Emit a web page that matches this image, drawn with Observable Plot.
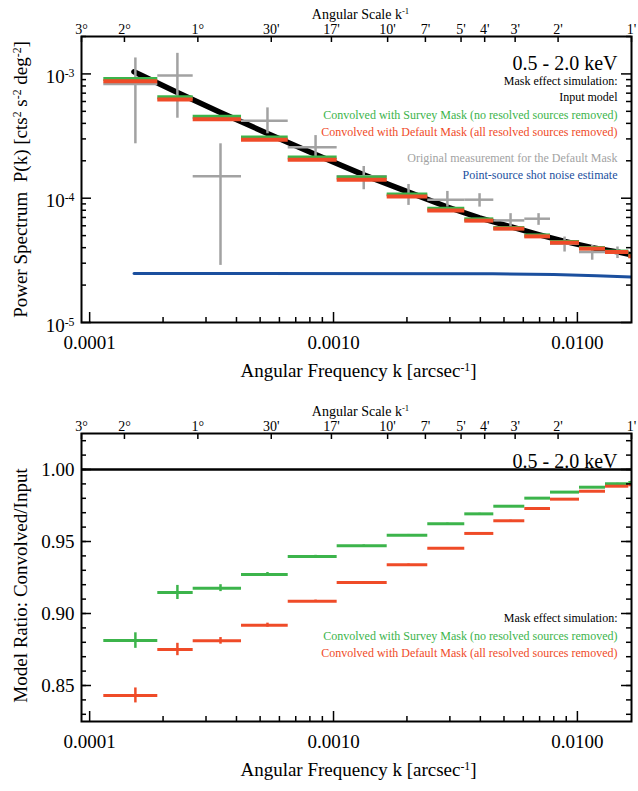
<!DOCTYPE html>
<html><head><meta charset="utf-8">
<script src="https://cdn.jsdelivr.net/npm/d3@7"></script>
<script src="https://cdn.jsdelivr.net/npm/@observablehq/plot@0.6"></script>
<style>body{margin:0;background:#fff}svg{display:block;font-family:"Liberation Serif","Times New Roman",serif !important}svg text{font-family:"Liberation Serif","Times New Roman",serif !important}</style>
</head><body><div id="c"></div>
<script>
// ===== data =====
const binLo = [1.143e-4, 1.903e-4, 2.658e-4, 4.195e-4, 6.52e-4, 1.035e-3, 1.66e-3, 2.435e-3, 3.453e-3, 4.542e-3, 6.086e-3, 7.756e-3, 1.020e-2, 1.304e-2, 1.625e-2];
const binHi = [1.903e-4, 2.658e-4, 4.195e-4, 6.52e-4, 1.035e-3, 1.66e-3, 2.435e-3, 3.453e-3, 4.542e-3, 6.086e-3, 7.756e-3, 1.020e-2, 1.304e-2, 1.625e-2, 2.0e-2];
const kCenter = [1.54e-4, 2.29e-4, 3.44e-4, 5.36e-4, 8.44e-4, 1.33e-3, 2.03e-3, 2.93e-3, 3.97e-3, 5.32e-3, 6.93e-3, 8.86e-3, 1.15e-2, 1.46e-2, 1.8e-2];

// top panel: convolved power spectra
const pSurvey  = [9.12e-4, 6.49e-4, 4.52e-4, 3.08e-4, 2.13e-4, 1.47e-4, 1.073e-4, 8.23e-5, 6.76e-5, 5.75e-5, 5.02e-5, 4.44e-5, 3.97e-5, 3.72e-5, 3.44e-5];
const pDefault = [8.72e-4, 6.22e-4, 4.32e-4, 2.95e-4, 2.04e-4, 1.41e-4, 1.034e-4, 7.98e-5, 6.60e-5, 5.69e-5, 4.93e-5, 4.39e-5, 3.93e-5, 3.69e-5, 3.41e-5];

// original measurement (gray crosses)
const pOrig   = [8.31e-4, 9.69e-4, 1.505e-4, 4.19e-4, 2.57e-4, 1.505e-4, 1.067e-4, 9.73e-5, 9.73e-5, 6.63e-5, 6.84e-5, 4.31e-5, 3.69e-5, 3.69e-5];
const pOrigLo = [2.74e-4, 4.40e-4, 2.88e-5, 3.30e-4, 2.08e-4, 1.17e-4, 8.75e-5, 8.48e-5, 8.48e-5, 5.86e-5, 6.05e-5, 3.69e-5, 3.17e-5, 3.27e-5];
const pOrigHi = [1.344e-3, 1.464e-3, 2.74e-4, 5.33e-4, 3.19e-4, 1.80e-4, 1.29e-4, 1.134e-4, 1.087e-4, 7.51e-5, 7.51e-5, 4.87e-5, 4.18e-5, 4.05e-5];

// input model (black) and shot noise (blue)
const kModel = [1.52e-4, 2.29e-4, 3.44e-4, 5.36e-4, 8.44e-4, 1.33e-3, 2.03e-3, 2.93e-3, 3.97e-3, 5.32e-3, 6.93e-3, 8.86e-3, 1.15e-2, 1.46e-2, 1.667e-2];
const pModel = [1.04e-3, 7.1e-4, 4.9e-4, 3.32e-4, 2.25e-4, 1.54e-4, 1.12e-4, 8.5e-5, 6.95e-5, 5.9e-5, 5.1e-5, 4.5e-5, 4.0e-5, 3.7e-5, 3.5e-5];
const kNoise = [1.52e-4, 4.5e-3, 8e-3, 1.2e-2, 1.667e-2];
const pNoise = [2.475e-5, 2.47e-5, 2.43e-5, 2.38e-5, 2.32e-5];

// bottom panel: model ratios
const ratioSurvey  = [0.8812, 0.9146, 0.9176, 0.9271, 0.9396, 0.947, 0.9544, 0.9623, 0.9692, 0.9745, 0.9801, 0.9843, 0.9877, 0.9901, 0.991];
const ratioDefault = [0.8431, 0.875, 0.881, 0.8919, 0.9085, 0.9215, 0.9338, 0.9453, 0.9556, 0.9644, 0.9729, 0.9794, 0.9849, 0.9884, 0.9894];
const errSurvey  = [0.0054, 0.0049, 0.0024, 0.0014, 0.0008, 0.0006, 0.0005, 0.0005, 0.0004, 0.0004, 0.0004, 0.0003, 0.0003, 0.0003, 0.0003];
const errDefault = [0.0052, 0.0043, 0.0023, 0.0014, 0.0008, 0.0006, 0.0006, 0.0005, 0.0005, 0.0004, 0.0004, 0.0004, 0.0003, 0.0003, 0.0003];

// axes
const topTickLabels = ["3°", "2°", "1°", "30'", "17'", "10'", "7'", "5'", "4'", "3'", "2'", "1'"];
const topTickArcmin = [180, 120, 60, 30, 17, 10, 7, 5, 4, 3, 2, 1];
const xMajorTicks = [1e-4, 1e-3, 1e-2];
const xMajorLabels = ["0.0001", "0.0010", "0.0100"];
const yTopMajor = [1e-5, 1e-4, 1e-3];
const yTopLabels = ["10^{-5}", "10^{-4}", "10^{-3}"];
const yBotMajor = [0.85, 0.90, 0.95, 1.00];
const yBotLabels = ["0.85", "0.90", "0.95", "1.00"];

const legendTop = ["0.5 - 2.0 keV", "Mask effect simulation:", "Input model",
  "Convolved with Survey Mask (no resolved sources removed)",
  "Convolved with Default Mask (all resolved sources removed)",
  "Original measurement for the Default Mask", "Point-source shot noise estimate"];
const legendBot = ["0.5 - 2.0 keV", "Mask effect simulation:",
  "Convolved with Survey Mask (no resolved sources removed)",
  "Convolved with Default Mask (all resolved sources removed)"];

// ===== styling =====
const GREEN = "#3cb44b", RED = "#ef4b28", GRAY = "#a2a2a2", BLUE = "#1b4f9e";
const FONT = "Liberation Serif";
const W = 638, ML = 81, MR = 7, PW = W - ML - MR;
const xDomain = [1 / (topTickArcmin[0] * 60), 1 / (topTickArcmin[topTickArcmin.length - 1] * 60)];
const topK = topTickArcmin.map(a => 1 / (a * 60));
const xMinor = [1e-4, 1e-3, 1e-2].flatMap(d => [2,3,4,5,6,7,8,9].map(m => m * d)).filter(v => v >= xDomain[0] && v <= xDomain[1]);
const idx = d3.range(kCenter.length);
const idxO = d3.range(pOrig.length);

function frameMarks(ph, yMaj, yMin, yLab, yLabDy) {
  return [
    Plot.ruleX(xMinor, {x: d => d, insetTop: ph - 5, strokeWidth: 1.5}),
    Plot.ruleX(xMajorTicks, {x: d => d, insetTop: ph - 10, strokeWidth: 1.5}),
    Plot.ruleX(topK, {x: d => d, insetBottom: ph - 6, strokeWidth: 1.5}),
    Plot.ruleY(yMin, {y: d => d, insetRight: PW - 5, strokeWidth: 1.5}),
    Plot.ruleY(yMaj, {y: d => d, insetRight: PW - 10, strokeWidth: 1.5}),
    Plot.ruleY(yMin, {y: d => d, insetLeft: PW - 5, strokeWidth: 1.5}),
    Plot.ruleY(yMaj, {y: d => d, insetLeft: PW - 10, strokeWidth: 1.5}),
    Plot.frame({strokeWidth: 2}),
    Plot.text(xMajorTicks, {x: d => d, text: (d, i) => xMajorLabels[i], frameAnchor: "bottom", dy: 26, fontSize: 19, fontFamily: FONT}),
    Plot.text(topK, {x: d => d, text: (d, i) => topTickLabels[i], frameAnchor: "top", dy: -12, fontSize: 14, fontFamily: FONT}),
    Plot.text(["Angular Scale k^{-1}"], {text: d => d, frameAnchor: "top", dy: -27, dx: 4, fontSize: 14, fontFamily: FONT}),
    Plot.text(["Angular Frequency k [arcsec^{-1}]"], {text: d => d, frameAnchor: "bottom", dy: 54, dx: 2, fontSize: 19, fontFamily: FONT}),
    Plot.text(yMaj, {y: d => d, text: (d, i) => yLab[i], frameAnchor: "left", dx: -7, dy: yLabDy, textAnchor: "end", fontSize: 19, fontFamily: FONT})
  ];
}

function supify(svg) {
  d3.select(svg).selectAll("text").each(function () {
    const s = this.textContent;
    if (!s.includes("^{")) return;
    const el = d3.select(this);
    el.text(null);
    for (const p of s.split(/(\^\{[^}]*\})/)) {
      if (!p) continue;
      if (p.startsWith("^{")) el.append("tspan").attr("baseline-shift", "super").attr("font-size", "62%").text(p.slice(2, -1));
      else el.append("tspan").text(p);
    }
  });
  return svg;
}

// ===== top panel =====
const PH1 = 395 - 36 - 73;
const yTopMinor = [1e-5, 1e-4, 1e-3].flatMap(d => [2,3,4,5,6,7,8,9].map(m => m * d)).filter(v => v <= 2e-3);
const legTopStyle = [[19.5, "black", 20], [40, "black", 12], [56, "black", 12], [74, GREEN, 12], [91, RED, 12], [117, GRAY, 12], [134, BLUE, 12]];
const topChart = Plot.plot({
  width: W, height: 395, marginLeft: ML, marginRight: MR, marginTop: 36, marginBottom: 73,
  style: "font-family: 'Liberation Serif', serif; background: white; color: black;",
  x: {type: "log", domain: xDomain, axis: null},
  y: {type: "log", domain: [1e-5, 2e-3], axis: null},
  marks: [
    Plot.line(d3.range(kNoise.length), {x: i => kNoise[i], y: i => pNoise[i], stroke: BLUE, strokeWidth: 3, clip: true}),
    Plot.line(d3.range(kModel.length), {x: i => kModel[i], y: i => pModel[i], stroke: "black", strokeWidth: 5.5, clip: true}),
    Plot.ruleY(idxO, {y: i => pOrig[i], x1: i => binLo[i], x2: i => binHi[i], stroke: GRAY, strokeWidth: 2.5, clip: true}),
    Plot.ruleX(idxO, {x: i => kCenter[i], y1: i => pOrigLo[i], y2: i => pOrigHi[i], stroke: GRAY, strokeWidth: 2.5, clip: true}),
    Plot.ruleY(idx, {y: i => pSurvey[i], x1: i => binLo[i], x2: i => binHi[i], stroke: GREEN, strokeWidth: 4, clip: true}),
    Plot.ruleY(idx, {y: i => pDefault[i], x1: i => binLo[i], x2: i => binHi[i], stroke: RED, strokeWidth: 4, clip: true}),
    ...frameMarks(PH1, yTopMajor, yTopMinor, yTopLabels, 3),
    Plot.text(["Power Spectrum  P(k) [cts^{2} s^{-2} deg^{-2}]"], {text: d => d, frameAnchor: "left", textAnchor: "middle", rotate: -90, dx: -61, fontSize: 19, fontFamily: FONT}),
    ...legendTop.map((t, i) => Plot.text([t], {text: d => d, frameAnchor: "top-right", textAnchor: "end", dx: -14, dy: legTopStyle[i][0], fill: legTopStyle[i][1], fontSize: legTopStyle[i][2], fontFamily: FONT}))
  ]
});

// ===== bottom panel =====
const PH2 = 396 - 38 - 70;
const yBotMinor = d3.range(83, 103).map(v => v / 100);
const legBotStyle = [[20, "black", 20], [180, "black", 12], [197.5, GREEN, 12], [214.5, RED, 12]];
const bottomChart = Plot.plot({
  width: W, height: 396, marginLeft: ML, marginRight: MR, marginTop: 38, marginBottom: 70,
  style: "font-family: 'Liberation Serif', serif; background: white; color: black;",
  x: {type: "log", domain: xDomain, axis: null},
  y: {domain: [0.825, 1.025], axis: null},
  marks: [
    Plot.ruleY([1], {strokeWidth: 2.5}),
    Plot.ruleY(idx, {y: i => ratioSurvey[i], x1: i => binLo[i], x2: i => binHi[i], stroke: GREEN, strokeWidth: 3, clip: true}),
    Plot.ruleX(idx, {x: i => kCenter[i], y1: i => ratioSurvey[i] - errSurvey[i], y2: i => ratioSurvey[i] + errSurvey[i], stroke: GREEN, strokeWidth: 2.5, clip: true}),
    Plot.ruleY(idx, {y: i => ratioDefault[i], x1: i => binLo[i], x2: i => binHi[i], stroke: RED, strokeWidth: 3, clip: true}),
    Plot.ruleX(idx, {x: i => kCenter[i], y1: i => ratioDefault[i] - errDefault[i], y2: i => ratioDefault[i] + errDefault[i], stroke: RED, strokeWidth: 2.5, clip: true}),
    ...frameMarks(PH2, yBotMajor, yBotMinor, yBotLabels, 0),
    Plot.text(["Model Ratio: Convolved/Input"], {text: d => d, frameAnchor: "left", textAnchor: "middle", rotate: -90, dx: -61, dy: 8, fontSize: 19, fontFamily: FONT}),
    ...legendBot.map((t, i) => Plot.text([t], {text: d => d, frameAnchor: "top-right", textAnchor: "end", dx: -14, dy: legBotStyle[i][0], fill: legBotStyle[i][1], fontSize: legBotStyle[i][2], fontFamily: FONT}))
  ]
});

const c = document.getElementById("c");
c.appendChild(supify(topChart));
c.appendChild(supify(bottomChart));
</script></body></html>
